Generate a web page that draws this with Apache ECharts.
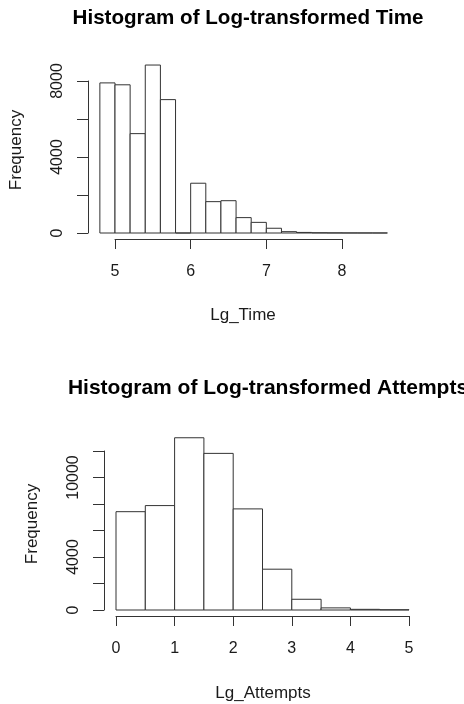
<!DOCTYPE html>
<html lang="en">
<head>
    <meta charset="UTF-8">
    <title>Histograms</title>
    <style>
        body { margin: 0; background: #fff; }
        div#main { width: 464px; height: 704px; }
    </style>
</head>
<body>
    <div id="main"></div>
    <script src="https://cdn.jsdelivr.net/npm/echarts@6/dist/echarts.min.js"></script>
    <script>
        // histogram bins (start, end) and counts
        const timeBinStarts = [4.8, 5.0, 5.2, 5.4, 5.6, 5.8, 6.0, 6.2, 6.4, 6.6, 6.8, 7.0, 7.2, 7.4, 7.6, 7.8, 8.0, 8.2, 8.4];
        const timeCounts = [7900, 7800, 5230, 8840, 7020, 0, 2620, 1650, 1700, 810, 560, 250, 70, 30, 12, 6, 4, 3, 2];
        const timeBinWidth = 0.2;
        const timeYLabels = [0, 4000, 8000];

        const attBinStarts = [0, 0.5, 1.0, 1.5, 2.0, 2.5, 3.0, 3.5, 4.0, 4.5];
        const attCounts = [7420, 7880, 13000, 11820, 7630, 3080, 810, 160, 50, 20];
        const attBinWidth = 0.5;
        const attYLabels = [0, 4000, 10000];

        const font = '"Liberation Sans", Arial, sans-serif';
        const lineColor = '#333';
        const textColor = '#1a1a1a';

        const myChart = echarts.init(document.getElementById('main'), null, { renderer: 'canvas' });

        function histData(starts, counts, w) {
            return starts.map((s, i) => [s, +(s + w).toFixed(2), counts[i]]);
        }

        function renderBar(params, api) {
            const p0 = api.coord([api.value(0), api.value(2)]);
            const p1 = api.coord([api.value(1), 0]);
            return {
                type: 'rect',
                shape: { x: p0[0], y: p0[1], width: p1[0] - p0[0], height: p1[1] - p0[1] },
                style: { fill: '#fff', stroke: lineColor, lineWidth: 1 }
            };
        }

        // R style: axis sits a little away from the bars
        function xAxisOpt(gridIndex, min, max) {
            return {
                gridIndex: gridIndex, type: 'value', min: min, max: max, interval: 1,
                offset: 6,
                axisLine: { onZero: false, lineStyle: { color: lineColor, width: 1 } },
                axisTick: { length: 10, lineStyle: { color: lineColor } },
                axisLabel: { margin: 25, color: textColor, fontSize: 16, fontFamily: font },
                splitLine: { show: false }
            };
        }

        function yAxisOpt(gridIndex, max, offset, shown) {
            return {
                gridIndex: gridIndex, type: 'value', min: 0, max: max, interval: 2000,
                offset: offset,
                axisLine: { show: true, onZero: false, lineStyle: { color: lineColor, width: 1 } },
                axisTick: { show: true, length: 11, lineStyle: { color: lineColor } },
                axisLabel: {
                    rotate: 90, margin: 22, color: textColor, fontSize: 16, fontFamily: font,
                    showMinLabel: true, showMaxLabel: true,
                    formatter: v => shown.indexOf(v) >= 0 ? String(v) : ''
                },
                splitLine: { show: false }
            };
        }

        function label(text, x, y, size, rotate) {
            return {
                type: 'text', x: x, y: y, rotation: rotate ? Math.PI / 2 : 0,
                style: {
                    text: text, fill: textColor, font: size + 'px ' + font,
                    align: 'center', verticalAlign: 'middle'
                }
            };
        }

        const option = {
            backgroundColor: '#fff',
            animation: false,
            title: [
                {
                    text: 'Histogram of Log-transformed Time', left: 243, top: 3, textAlign: 'center',
                    textStyle: { fontSize: 20.6, fontWeight: 'bold', color: '#000', fontFamily: font }
                },
                {
                    text: 'Histogram of Log-transformed Attempts', left: 263, top: 373, textAlign: 'center',
                    textStyle: { fontSize: 21, fontWeight: 'bold', color: '#000', fontFamily: font }
                }
            ],
            grid: [
                { left: 115, width: 227, top: 81, height: 152 },
                { left: 116, width: 293, top: 451, height: 159 }
            ],
            xAxis: [xAxisOpt(0, 5, 8), xAxisOpt(1, 0, 5)],
            yAxis: [yAxisOpt(0, 8000, 27, timeYLabels), yAxisOpt(1, 12000, 12, attYLabels)],
            graphic: [
                label('Lg_Time', 243, 315, 17, false),
                label('Frequency', 16, 150, 17, true),
                label('Lg_Attempts', 263, 693, 17, false),
                label('Frequency', 32, 524, 17, true)
            ],
            series: [
                {
                    type: 'custom', xAxisIndex: 0, yAxisIndex: 0, clip: false,
                    renderItem: renderBar,
                    encode: { x: [0, 1], y: 2 },
                    data: histData(timeBinStarts, timeCounts, timeBinWidth)
                },
                {
                    type: 'custom', xAxisIndex: 1, yAxisIndex: 1, clip: false,
                    renderItem: renderBar,
                    encode: { x: [0, 1], y: 2 },
                    data: histData(attBinStarts, attCounts, attBinWidth)
                }
            ]
        };

        myChart.setOption(option);
    </script>
</body>
</html>
